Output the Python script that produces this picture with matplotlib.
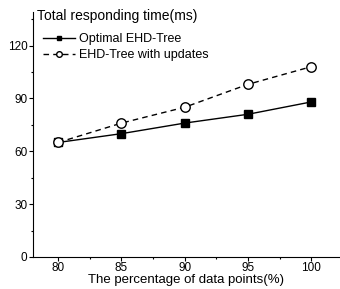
import matplotlib
matplotlib.use("Agg")
import matplotlib.pyplot as plt
from matplotlib.ticker import MultipleLocator

plt.rcParams['font.family'] = ['Liberation Sans', 'DejaVu Sans']

# data
x = [80, 85, 90, 95, 100]
optimal = [65, 70, 76, 81, 88]
updates = [65, 76, 85, 98, 108]

fig = plt.figure(figsize=(3.4, 2.89), dpi=100)
ax = fig.add_axes([0.097, 0.111, 0.9, 0.847])

ax.plot(x, optimal, color='black', linestyle='-', linewidth=1.0,
        marker='s', markersize=5.8, markerfacecolor='black',
        label='Optimal EHD-Tree')
ax.plot(x, updates, color='black', linestyle=(0, (4, 3)), linewidth=1.0,
        marker='o', markersize=6.8, markerfacecolor='white',
        label='EHD-Tree with updates')

ax.set_xlim(78, 102.2)
ax.set_ylim(0, 139)
ax.xaxis.set_major_locator(MultipleLocator(5))
ax.xaxis.set_minor_locator(MultipleLocator(2.5))
ax.yaxis.set_major_locator(MultipleLocator(30))
ax.yaxis.set_minor_locator(MultipleLocator(15))
ax.tick_params(which='major', length=3, width=0.8, labelsize=8.5, pad=1)
ax.tick_params(which='minor', length=1.5, width=0.8)

for s in ['top', 'right']:
    ax.spines[s].set_visible(False)

ax.set_xlabel('The percentage of data points(%)', fontsize=9.5, labelpad=0)
fig.text(0.108, 0.945, 'Total responding time(ms)', fontsize=10, va='center')

ax.legend(loc='upper left', bbox_to_anchor=(0.005, 0.95), frameon=False,
          fontsize=9, handlelength=2.5, handletextpad=0.35, labelspacing=0.3,
          borderaxespad=0.3, markerscale=0.6)

fig.savefig('out.png', dpi=100)
